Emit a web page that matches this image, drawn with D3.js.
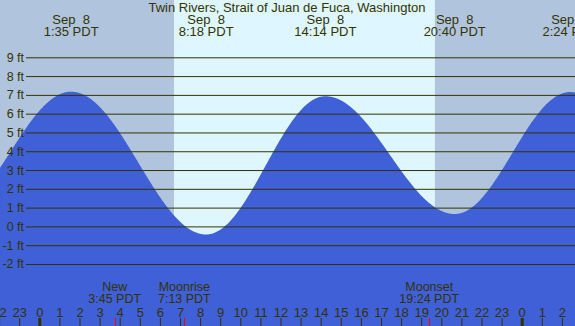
<!DOCTYPE html>
<html>
<head>
<meta charset="utf-8">
<script src="https://cdn.jsdelivr.net/npm/d3@7"></script>
<style>
  html, body { margin: 0; padding: 0; background: #fff; }
  svg { display: block; font-family: "Liberation Sans", Arial, sans-serif; }
</style>
</head>
<body>
<svg id="chart" width="575" height="326"></svg>
<script>
// tide extremes, hours from midnight Sep 8 (PDT), height in ft
var tideHours   = [-4.5, 1.583, 8.3, 14.233, 20.667, 26.4, 33.4];
var tideHeights = [0.7, 7.17, -0.43, 6.93, 0.66, 7.15, -0.3];
var tideLabels  = [null, "1:35 PDT", "8:18 PDT", "14:14 PDT", "20:40 PDT", "2:24 PDT", null];
var tideDates   = [null, "Sep  8", "Sep  8", "Sep  8", "Sep  8", "Sep  9", null];

// sunrise / sunset (hours)
var sunHours = [6.7, 19.68];

// moon events
var moonNames = ["New", "Moonrise", "Moonset"];
var moonHours = [3.75, 7.217, 19.4];
var moonTimes = ["3:45 PDT", "7:13 PDT", "19:24 PDT"];

var feetTicks = [-2, -1, 0, 1, 2, 3, 4, 5, 6, 7, 8, 9];
var hourTicks = d3.range(-2, 28);

var title = "Twin Rivers, Strait of Juan de Fuca, Washington";

var W = 575, H = 326;
var ink = "#333300";

var svg = d3.select("#chart");

//^^^^^^^^^^^^^^^^^^^^^^^^^^^^^^^^^^^^^^^^^^^^^^^^^^^^^^^^^^^^^^^^^^^^^^^^^^^^
// scales
//----------------------------------------------------------------------------
var x = d3.scaleLinear().domain([0, 24]).range([39.3, 521.7]);
var y = d3.scaleLinear().domain([0, 9]).range([226.4, 57.3]);

// background: night / day / night
svg.append("rect")
    .attr("x", 0).attr("y", 0).attr("width", W).attr("height", H)
    .attr("fill", "#b0c4de");

svg.append("rect")
    .attr("x", x(sunHours[0])).attr("y", 0)
    .attr("width", x(sunHours[1]) - x(sunHours[0])).attr("height", H)
    .attr("fill", "#ddf6ff");

//^^^^^^^^^^^^^^^^^^^^^^^^^^^^^^^^^^^^^^^^^^^^^^^^^^^^^^^^^^^^^^^^^^^^^^^^^^^^
// tide curve, cosine between extremes
//----------------------------------------------------------------------------
function tideAt(t) {
    for (var i = 0; i < tideHours.length - 1; i++) {
        var a = tideHours[i], b = tideHours[i + 1];
        if (t >= a && t <= b) {
            var f = (1 - Math.cos(Math.PI * (t - a) / (b - a))) / 2;
            return tideHeights[i] + (tideHeights[i + 1] - tideHeights[i]) * f;
        }
    }
    return tideHeights[tideHeights.length - 1];
}

var pts = [];
var t0 = x.invert(-2), t1 = x.invert(W + 2);
for (var t = t0; t <= t1; t += 0.05) pts.push(t);
pts.push(t1);

var area = d3.area()
    .x(function(t) { return x(t); })
    .y0(H + 5)
    .y1(function(t) { return y(tideAt(t)); })
    .curve(d3.curveLinear);

svg.append("path")
    .datum(pts)
    .attr("d", area)
    .attr("fill", "#4060d8");

//^^^^^^^^^^^^^^^^^^^^^^^^^^^^^^^^^^^^^^^^^^^^^^^^^^^^^^^^^^^^^^^^^^^^^^^^^^^^
// feet grid
//----------------------------------------------------------------------------
var yAxis = d3.axisLeft(y)
    .tickValues(feetTicks)
    .tickSize(-(W - 26))
    .tickPadding(2)
    .tickFormat(function(d) { return d + " ft"; });

var gy = svg.append("g")
    .attr("transform", "translate(26,0)")
    .call(yAxis);

gy.select(".domain").remove();
gy.selectAll(".tick line").attr("stroke", ink).attr("stroke-width", 1);
gy.selectAll(".tick text")
    .attr("fill", ink)
    .attr("font-size", 12.5)
    .attr("font-family", "Liberation Sans, Arial, sans-serif");

//^^^^^^^^^^^^^^^^^^^^^^^^^^^^^^^^^^^^^^^^^^^^^^^^^^^^^^^^^^^^^^^^^^^^^^^^^^^^
// hour axis at the bottom
//----------------------------------------------------------------------------
var xAxis = d3.axisTop(x)
    .tickValues(hourTicks)
    .tickSize(8)
    .tickPadding(1.5)
    .tickFormat(function(d) { return ((d % 24) + 24) % 24; });

var gx = svg.append("g")
    .attr("transform", "translate(0," + H + ")")
    .call(xAxis);

gx.select(".domain").remove();
gx.selectAll(".tick line")
    .attr("stroke", ink)
    .attr("stroke-width", function(d) { return d % 24 === 0 ? 3 : 1; });
gx.selectAll(".tick text")
    .attr("fill", ink)
    .attr("font-size", 13)
    .attr("font-family", "Liberation Sans, Arial, sans-serif");

// red moon ticks
svg.selectAll("line.moon")
    .data(moonHours)
    .enter().append("line")
    .attr("class", "moon")
    .attr("x1", function(d) { return Math.round(x(d)) + 0.5; })
    .attr("x2", function(d) { return Math.round(x(d)) + 0.5; })
    .attr("y1", H - 8).attr("y2", H)
    .attr("stroke", "#ff0000");

var moonG = svg.selectAll("g.moonlabel")
    .data(moonHours)
    .enter().append("g")
    .attr("class", "moonlabel")
    .attr("transform", function(d) { return "translate(" + x(d) + ",0)"; });

moonG.append("text")
    .attr("y", 291)
    .attr("text-anchor", "middle")
    .attr("font-size", 12.5)
    .attr("fill", ink)
    .text(function(d, i) { return moonNames[i]; });

moonG.append("text")
    .attr("y", 303)
    .attr("text-anchor", "middle")
    .attr("font-size", 12.5)
    .attr("fill", ink)
    .text(function(d, i) { return moonTimes[i]; });

//^^^^^^^^^^^^^^^^^^^^^^^^^^^^^^^^^^^^^^^^^^^^^^^^^^^^^^^^^^^^^^^^^^^^^^^^^^^^
// extreme labels at top + title
//----------------------------------------------------------------------------
var ext = tideHours.map(function(h, i) { return i; })
    .filter(function(i) { return tideLabels[i]; });

var topG = svg.selectAll("g.extreme")
    .data(ext)
    .enter().append("g")
    .attr("class", "extreme")
    .attr("transform", function(i) { return "translate(" + x(tideHours[i]) + ",0)"; });

topG.append("text")
    .attr("y", 23.5)
    .attr("text-anchor", "middle")
    .attr("font-size", 13)
    .attr("fill", ink)
    .style("white-space", "pre")
    .text(function(i) { return tideDates[i]; });

topG.append("text")
    .attr("y", 36)
    .attr("text-anchor", "middle")
    .attr("font-size", 13)
    .attr("fill", ink)
    .text(function(i) { return tideLabels[i]; });

svg.append("text")
    .attr("x", 287)
    .attr("y", 11.5)
    .attr("text-anchor", "middle")
    .attr("font-size", 13)
    .attr("fill", ink)
    .text(title);
</script>
</body>
</html>
